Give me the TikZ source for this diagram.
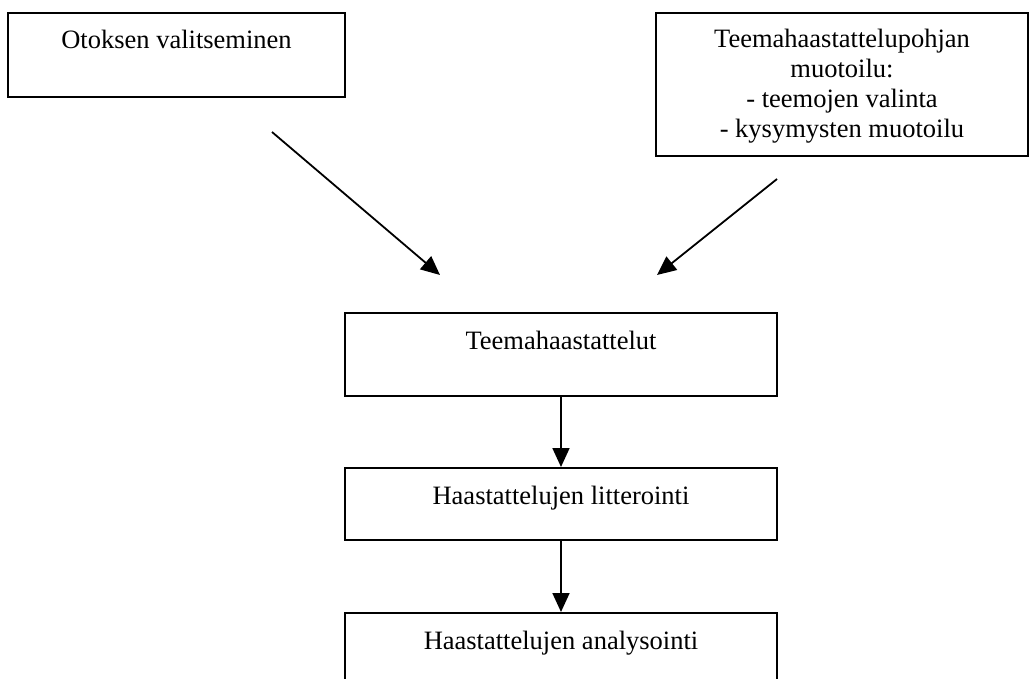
\documentclass[tikz,border=0pt]{standalone}
\usepackage{fontspec}
\setmainfont{Liberation Serif}
\usetikzlibrary{arrows.meta}
\begin{document}
\begin{tikzpicture}[x=1pt,y=-1pt,
  font=\fontsize{26.5}{30}\selectfont,
  box/.style={draw=black, line width=2pt, anchor=north, inner xsep=0pt, inner ysep=0pt,
    align=center, text height=36pt},
  arr/.style={draw=black, line width=1.8pt, -{Triangle[length=19pt,width=17pt]}}]
\clip (0,0) rectangle (1029,679);
\fill[white] (0,0) rectangle (1029,679);
\node[box, minimum width=337pt, text depth=48pt] (b1) at (176.5,12) {Otoksen valitseminen};
\node[box, minimum width=372pt, text height=125pt, text depth=18pt] (b2) at (842,12)
  {Teemahaastattelupohjan\\muotoilu:\\- teemojen valinta\\- kysymysten muotoilu};
\node[box, minimum width=432pt, text depth=47pt] (b3) at (561,312) {Teemahaastattelut};
\node[box, minimum width=432pt, text depth=36pt] (b4) at (561,467) {Haastattelujen litterointi};
\node[box, minimum width=432pt, text depth=100pt] (b5) at (561,612) {Haastattelujen analysointi};
\coordinate (s1) at (272,132);
\coordinate (t1) at (440,275);
\coordinate (s2) at (777,179);
\coordinate (t2) at (657,275);
\draw[arr] (s1) -- (t1);
\draw[arr] (s2) -- (t2);
\draw[arr] (b3.south) -- (b4.north);
\draw[arr] (b4.south) -- (b5.north);
\end{tikzpicture}
\end{document}
